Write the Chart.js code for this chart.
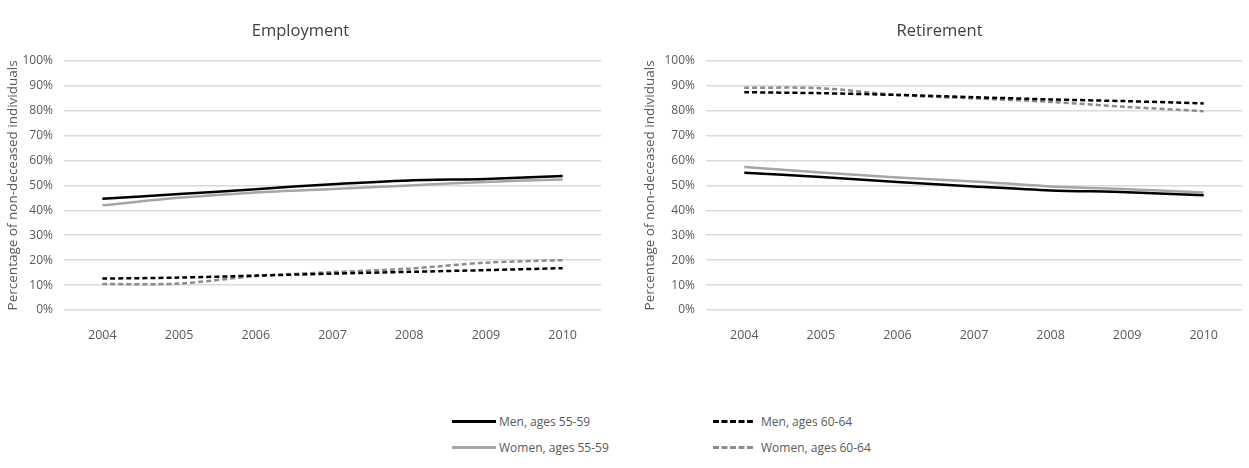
<!DOCTYPE html>
<html>
<head>
<meta charset="utf-8">
<script src="https://cdn.jsdelivr.net/npm/chart.js@4.4.1/dist/chart.umd.min.js"></script>
<style>
  body { margin: 0; background: #fff; width: 1249px; height: 468px; position: relative; overflow: hidden; font-family: "Open Sans", "Noto Sans", sans-serif; }
  .box { position: absolute; top: 0; height: 365px; }
  #left { left: 0; width: 620px; }
  #right { left: 620px; width: 629px; }
  .legend { position: absolute; font-size: 12px; color: #595959; display: flex; align-items: center; height: 16px; white-space: nowrap; }
  .legend .mark { flex: none; display: block; height: 0; }
</style>
</head>
<body>
<div class="box" id="left"><canvas id="empChart"></canvas></div>
<div class="box" id="right"><canvas id="retChart"></canvas></div>

<div class="legend" style="left:452px; top:413px;"><span class="mark" style="width:44px; margin-right:3px; border-top:3px solid #000;"></span>Men, ages 55-59</div>
<div class="legend" style="left:452px; top:439px;"><span class="mark" style="width:44px; margin-right:3px; border-top:3px solid #a6a6a6;"></span>Women, ages 55-59</div>
<div class="legend" style="left:713px; top:413px;"><span class="mark" style="width:40px; margin-right:8px; border-top:3px dashed #000;"></span>Men, ages 60-64</div>
<div class="legend" style="left:713px; top:439px;"><span class="mark" style="width:40px; margin-right:8px; border-top:3px dashed #8c8c8c;"></span>Women, ages 60-64</div>

<script>
const years = ["2004", "2005", "2006", "2007", "2008", "2009", "2010"];

// Employment
const empMen5559 = [44.6, 46.5, 48.5, 50.5, 52.0, 52.6, 53.8];
const empWomen5559 = [42.0, 45.0, 47.2, 48.6, 50.0, 51.4, 52.4];
const empMen6064 = [12.6, 13.0, 13.8, 14.6, 15.3, 16.0, 16.8];
const empWomen6064 = [10.4, 10.6, 13.6, 15.2, 16.6, 19.0, 20.0];

// Retirement
const retMen5559 = [55.1, 53.4, 51.4, 49.6, 48.0, 47.3, 46.0];
const retWomen5559 = [57.4, 55.2, 53.2, 51.6, 49.6, 48.5, 47.2];
const retMen6064 = [87.4, 87.0, 86.3, 85.4, 84.5, 83.8, 82.9];
const retWomen6064 = [89.2, 89.0, 86.3, 84.9, 83.5, 81.5, 79.8];

const yTicks = [0, 10, 20, 30, 40, 50, 60, 70, 80, 90, 100];

const tickColor = "#595959";
const gridColor = "#d9d9d9";

function makeDatasets(men5559, women5559, men6064, women6064) {
  return [
    { label: "Men, ages 55-59", data: men5559, borderColor: "#000", borderWidth: 2.5 },
    { label: "Women, ages 55-59", data: women5559, borderColor: "#a6a6a6", borderWidth: 2.5 },
    { label: "Men, ages 60-64", data: men6064, borderColor: "#000", borderWidth: 2.5, borderDash: [5, 3] },
    { label: "Women, ages 60-64", data: women6064, borderColor: "#8c8c8c", borderWidth: 2.5, borderDash: [5, 3] },
  ].map((d) => ({ ...d, pointRadius: 0, tension: 0.3, fill: false }));
}

function makeChart(id, title, datasets, leftPad, axisWidth, rightPad) {
  return new Chart(document.getElementById(id), {
    type: "line",
    data: { labels: years, datasets: datasets },
    options: {
      responsive: true,
      maintainAspectRatio: false,
      animation: false,
      layout: { padding: { left: leftPad, right: rightPad, top: 0, bottom: 12 } },
      plugins: {
        legend: { display: false },
        tooltip: { enabled: false },
        title: {
          display: true,
          text: title,
          color: "#404040",
          font: { family: "Open Sans", size: 16.5, weight: "normal" },
          padding: { top: 21, bottom: 20 },
        },
      },
      scales: {
        x: {
          offset: true,
          grid: { display: false },
          border: { display: false },
          ticks: { color: tickColor, font: { family: "Open Sans", size: 12.5 }, padding: 10, maxRotation: 0 },
        },
        y: {
          min: 0,
          max: 100,
          afterBuildTicks: (axis) => { axis.ticks = yTicks.map((v) => ({ value: v })); },
          afterFit: (axis) => { axis.width = axisWidth; },
          grid: { color: gridColor, lineWidth: 1.5, drawTicks: false },
          border: { display: false },
          ticks: {
            color: tickColor,
            font: { family: "Open Sans", size: 12 },
            padding: 11,
            callback: (v) => v + "%",
          },
          title: {
            display: true,
            text: "Percentage of non-deceased individuals",
            color: tickColor,
            font: { family: "Open Sans", size: 13.5 },
            padding: { top: 5, bottom: 0 },
          },
        },
      },
    },
  });
}

makeChart("empChart", "Employment", makeDatasets(empMen5559, empWomen5559, empMen6064, empWomen6064), 0, 64, 19);
makeChart("retChart", "Retirement", makeDatasets(retMen5559, retWomen5559, retMen6064, retWomen6064), 17, 69, 7);
</script>
</body>
</html>
